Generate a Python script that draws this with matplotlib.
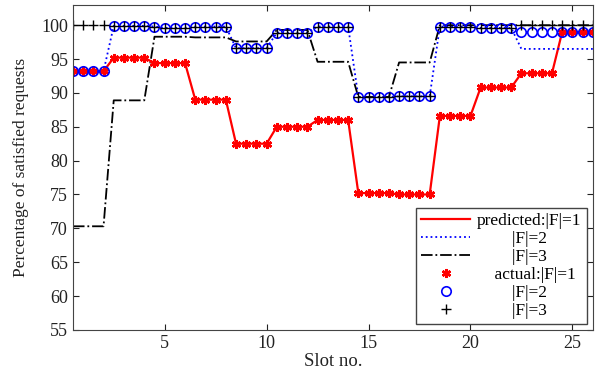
import numpy as np
import matplotlib
matplotlib.use("Agg")
import matplotlib.pyplot as plt

plt.rcParams['font.family'] = ['Liberation Serif', 'DejaVu Serif']
plt.rcParams['mathtext.fontset'] = 'stix'

# two samples per slot, slot positions 0.5 ... 26
slots = np.arange(1, 53) / 2

# |F|=1, predicted and actual are the same values
pred_f1 = [93.2, 93.2, 93.2, 93.2, 95.2, 95.2, 95.2, 95.2,
           94.4, 94.4, 94.4, 94.4, 89.0, 89.0, 89.0, 89.0,
           82.5, 82.5, 82.5, 82.5, 85.0, 85.0, 85.0, 85.0,
           86.0, 86.0, 86.0, 86.0, 75.2, 75.2, 75.2, 75.2,
           75.0, 75.0, 75.0, 75.0, 86.6, 86.6, 86.6, 86.6,
           90.8, 90.8, 90.8, 90.8, 92.9, 92.9, 92.9, 92.9,
           99.0, 99.0, 99.0, 99.0]
act_f1 = pred_f1

act_f2 = [93.2, 93.2, 93.2, 93.2, 99.9, 99.9, 99.9, 99.9,
          99.8, 99.6, 99.6, 99.6, 99.8, 99.8, 99.8, 99.8,
          96.6, 96.6, 96.6, 96.6, 98.9, 98.9, 98.9, 98.9,
          99.8, 99.8, 99.8, 99.8, 89.4, 89.4, 89.4, 89.4,
          89.5, 89.5, 89.5, 89.5, 99.8, 99.8, 99.8, 99.8,
          99.6, 99.6, 99.6, 99.6, 99.0, 99.0, 99.0, 99.0,
          99.0, 99.0, 99.0, 99.0]
pred_f2 = [93.2, 93.2, 93.2, 93.2, 99.9, 99.9, 99.9, 99.9,
           99.8, 99.6, 99.6, 99.6, 99.8, 99.8, 99.8, 99.8,
           96.6, 96.6, 96.6, 96.6, 98.9, 98.9, 98.9, 98.9,
           99.8, 99.8, 99.8, 99.8, 89.4, 89.4, 89.4, 89.4,
           89.5, 89.5, 89.5, 89.5, 99.8, 99.8, 99.8, 99.8,
           99.6, 99.6, 99.6, 99.6, 96.5, 96.5, 96.5, 96.5,
           96.5, 96.5, 96.5, 96.5]

pred_f3 = [70.3, 70.3, 70.3, 70.3, 88.9, 88.9, 88.9, 88.9,
           98.3, 98.3, 98.3, 98.3, 98.2, 98.2, 98.2, 98.2,
           97.6, 97.6, 97.6, 97.6, 99.3, 99.3, 99.3, 99.3,
           94.6, 94.6, 94.6, 94.6, 89.4, 89.4, 89.4, 89.4,
           94.5, 94.5, 94.5, 94.5, 100, 100, 100, 100,
           100, 100, 100, 100, 100, 100, 100, 100,
           100, 100, 100, 100]
act_f3 = [100, 100, 100, 100, 99.9, 99.9, 99.9, 99.9,
          99.8, 99.6, 99.6, 99.6, 99.8, 99.8, 99.8, 99.8,
          96.6, 96.6, 96.6, 96.6, 98.9, 98.9, 98.9, 98.9,
          99.8, 99.8, 99.8, 99.8, 89.4, 89.4, 89.4, 89.4,
          89.5, 89.5, 89.5, 89.5, 99.8, 99.8, 99.8, 99.8,
          99.6, 99.6, 99.6, 99.6, 100, 100, 100, 100,
          100, 100, 100, 100]

fig = plt.figure(figsize=(6.03, 3.77), dpi=100)
ax = fig.add_axes([0.121, 0.125, 0.862, 0.862])

ax.plot(slots, pred_f1, '-', color='red', lw=1.6, label='predicted:|F|=1')
ax.plot(slots, pred_f2, ':', color='blue', lw=1.3, label='        |F|=2')
ax.plot(slots, pred_f3, '-.', color='black', lw=1.3, label='        |F|=3')
ax.plot(slots, act_f1, ls='none', marker=(6, 2, 0), ms=6.5, mew=1.8,
        color='red', label='    actual:|F|=1')
ax.plot(slots, act_f2, ls='none', marker='o', ms=6.8, mfc='none', mew=1.2,
        color='blue', label='        |F|=2')
ax.plot(slots, act_f3, ls='none', marker='+', ms=7.5, mew=1.0,
        color='black', label='        |F|=3')

ax.set_xlim(0.5, 26)
ax.set_ylim(55, 103)
ax.set_xticks([5, 10, 15, 20, 25])
ax.set_yticks(np.arange(55, 101, 5))
ax.tick_params(direction='in', top=True, right=True, labelsize=13,
               colors='#222222', length=4)
for s in ax.spines.values():
    s.set_color('#444444')
ax.set_xlabel('Slot no.', fontsize=13.5, color='#222222', labelpad=1)
ax.set_ylabel('Percentage of satisfied requests', fontsize=12.5,
              color='#222222', labelpad=9)

leg = ax.legend(loc='lower right', fontsize=12.5, fancybox=False,
                edgecolor='#444444', framealpha=1, handlelength=2.8,
                labelspacing=0.1, borderpad=0.3, borderaxespad=0.35,
                handletextpad=0.4)
leg.get_frame().set_linewidth(1.0)

fig.savefig('out.png', dpi=100)
